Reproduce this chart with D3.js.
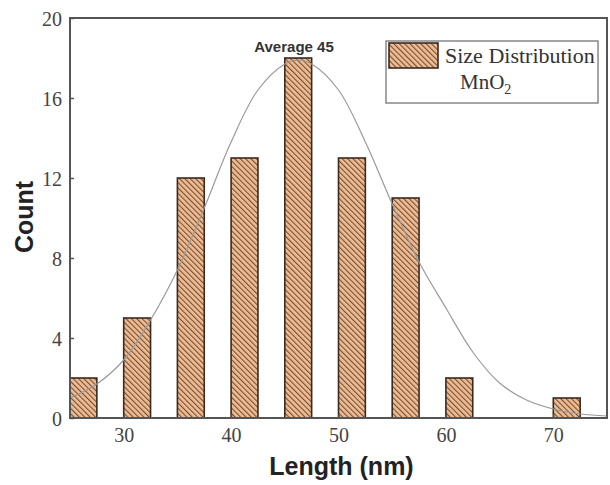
<!DOCTYPE html>
<html>
<head>
<meta charset="utf-8">
<script src="https://cdn.jsdelivr.net/npm/d3@7"></script>
<style>
  body { margin: 0; background: #fff; }
  svg { display: block; }
</style>
</head>
<body>
<svg id="chart"></svg>
<script>
// histogram bins (start of each bin, nm) and counts
var binStart = [25, 30, 35, 40, 45, 50, 55, 60, 70];
var counts = [2, 5, 12, 13, 18, 13, 11, 2, 1];
var binWidth = 2.5;

// fitted curve
var fitX = [25, 27.5, 30, 32.5, 35, 37.5, 40, 42.5, 45, 46.2, 47.5, 50, 52.5, 55, 57.5, 60, 62.5, 65, 67.5, 70, 72.5, 75];
var fitY = [1.0, 1.7, 2.9, 4.9, 7.4, 10.5, 13.8, 16.4, 17.7, 17.9, 17.7, 16.4, 13.8, 10.7, 7.8, 5.5, 3.3, 1.75, 0.9, 0.45, 0.2, 0.1];

var xTicks = [30, 40, 50, 60, 70];
var yTicks = [0, 4, 8, 12, 16, 20];

var W = 610, H = 485;
var mLeft = 70, mRight = 607, mTop = 18, mBottom = 418;

var svg = d3.select("#chart")
    .attr("width", W)
    .attr("height", H);

var defs = svg.append("defs");
var pat = defs.append("pattern")
    .attr("id", "hatch")
    .attr("patternUnits", "userSpaceOnUse")
    .attr("width", 3.8)
    .attr("height", 3.8)
    .attr("patternTransform", "rotate(-45)");
pat.append("rect")
    .attr("width", 3.8).attr("height", 3.8)
    .attr("fill", "#f1bd93");
pat.append("line")
    .attr("x1", 0.6).attr("y1", 0).attr("x2", 0.6).attr("y2", 3.8)
    .attr("stroke", "#6a4630")
    .attr("stroke-width", 1.05);

var x = d3.scaleLinear().domain([25, 75]).range([mLeft, mRight]);
var y = d3.scaleLinear().domain([0, 20]).range([mBottom, mTop]);

// bars
svg.append("g").selectAll("rect")
    .data(counts)
    .enter()
    .append("rect")
    .attr("x", function(d, i) { return x(binStart[i]); })
    .attr("y", function(d) { return y(d); })
    .attr("width", function(d, i) { return x(binStart[i] + binWidth) - x(binStart[i]); })
    .attr("height", function(d) { return y(0) - y(d); })
    .attr("fill", "url(#hatch)")
    .attr("stroke", "#3a2a20")
    .attr("stroke-width", 1.6);

// fit curve
var line = d3.line()
    .x(function(d, i) { return x(fitX[i]); })
    .y(function(d) { return y(d); })
    .curve(d3.curveCatmullRom);

svg.append("path")
    .datum(fitY)
    .attr("d", line)
    .attr("fill", "none")
    .attr("stroke", "#9a9a9a")
    .attr("stroke-width", 1.2);

// axes
var yAxis = d3.axisLeft(y).tickValues(yTicks).tickSize(-4).tickPadding(8).tickSizeOuter(0);
var xAxis = d3.axisBottom(x).tickValues(xTicks).tickSize(-4).tickPadding(9).tickSizeOuter(0);

var gy = svg.append("g")
    .attr("transform", "translate(" + mLeft + ",0)")
    .call(yAxis);
var gx = svg.append("g")
    .attr("transform", "translate(0," + mBottom + ")")
    .call(xAxis);

[gx, gy].forEach(function(g) {
    g.select(".domain").remove();
    g.selectAll(".tick line").attr("stroke", "#555").attr("stroke-width", 1.5);
    g.selectAll("text")
        .attr("fill", "#444")
        .style("font-family", "'Liberation Serif', 'DejaVu Serif', serif")
        .style("font-size", "20px");
});
gx.selectAll("text").attr("dy", "0.75em");
gy.selectAll("text").attr("dy", "0.35em");

// frame
svg.append("rect")
    .attr("x", mLeft).attr("y", mTop)
    .attr("width", mRight - mLeft).attr("height", mBottom - mTop)
    .attr("fill", "none")
    .attr("stroke", "#555")
    .attr("stroke-width", 2);

// axis titles
svg.append("text")
    .attr("x", (mLeft + mRight) / 2 + 3)
    .attr("y", 475)
    .attr("text-anchor", "middle")
    .style("font-family", "'Liberation Sans', Arial, sans-serif")
    .style("font-weight", "bold")
    .style("font-size", "25px")
    .attr("fill", "#222")
    .text("Length (nm)");

svg.append("text")
    .attr("transform", "translate(33,217) rotate(-90)")
    .attr("text-anchor", "middle")
    .style("font-family", "'Liberation Sans', Arial, sans-serif")
    .style("font-weight", "bold")
    .style("font-size", "25px")
    .attr("fill", "#222")
    .text("Count");

// annotation
svg.append("text")
    .attr("x", 294)
    .attr("y", 52)
    .attr("text-anchor", "middle")
    .style("font-family", "'Liberation Sans', Arial, sans-serif")
    .style("font-weight", "bold")
    .style("font-size", "15px")
    .attr("fill", "#333")
    .text("Average 45");

// legend
var lg = svg.append("g");
lg.append("rect")
    .attr("x", 386).attr("y", 41)
    .attr("width", 212).attr("height", 62)
    .attr("fill", "#fff")
    .attr("stroke", "#888")
    .attr("stroke-width", 1.5);
lg.append("rect")
    .attr("x", 389).attr("y", 43)
    .attr("width", 49).attr("height", 25)
    .attr("fill", "url(#hatch)")
    .attr("stroke", "#3a2a20")
    .attr("stroke-width", 1.6);
lg.append("text")
    .attr("x", 445).attr("y", 63)
    .style("font-family", "'Liberation Serif', 'DejaVu Serif', serif")
    .style("font-size", "22px")
    .attr("fill", "#333")
    .text("Size Distribution");
var mn = lg.append("text")
    .attr("x", 460).attr("y", 89)
    .style("font-family", "'Liberation Serif', 'DejaVu Serif', serif")
    .style("font-size", "21px")
    .attr("fill", "#333");
mn.append("tspan").text("MnO");
mn.append("tspan").attr("dy", 5).style("font-size", "14px").text("2");
</script>
</body>
</html>
